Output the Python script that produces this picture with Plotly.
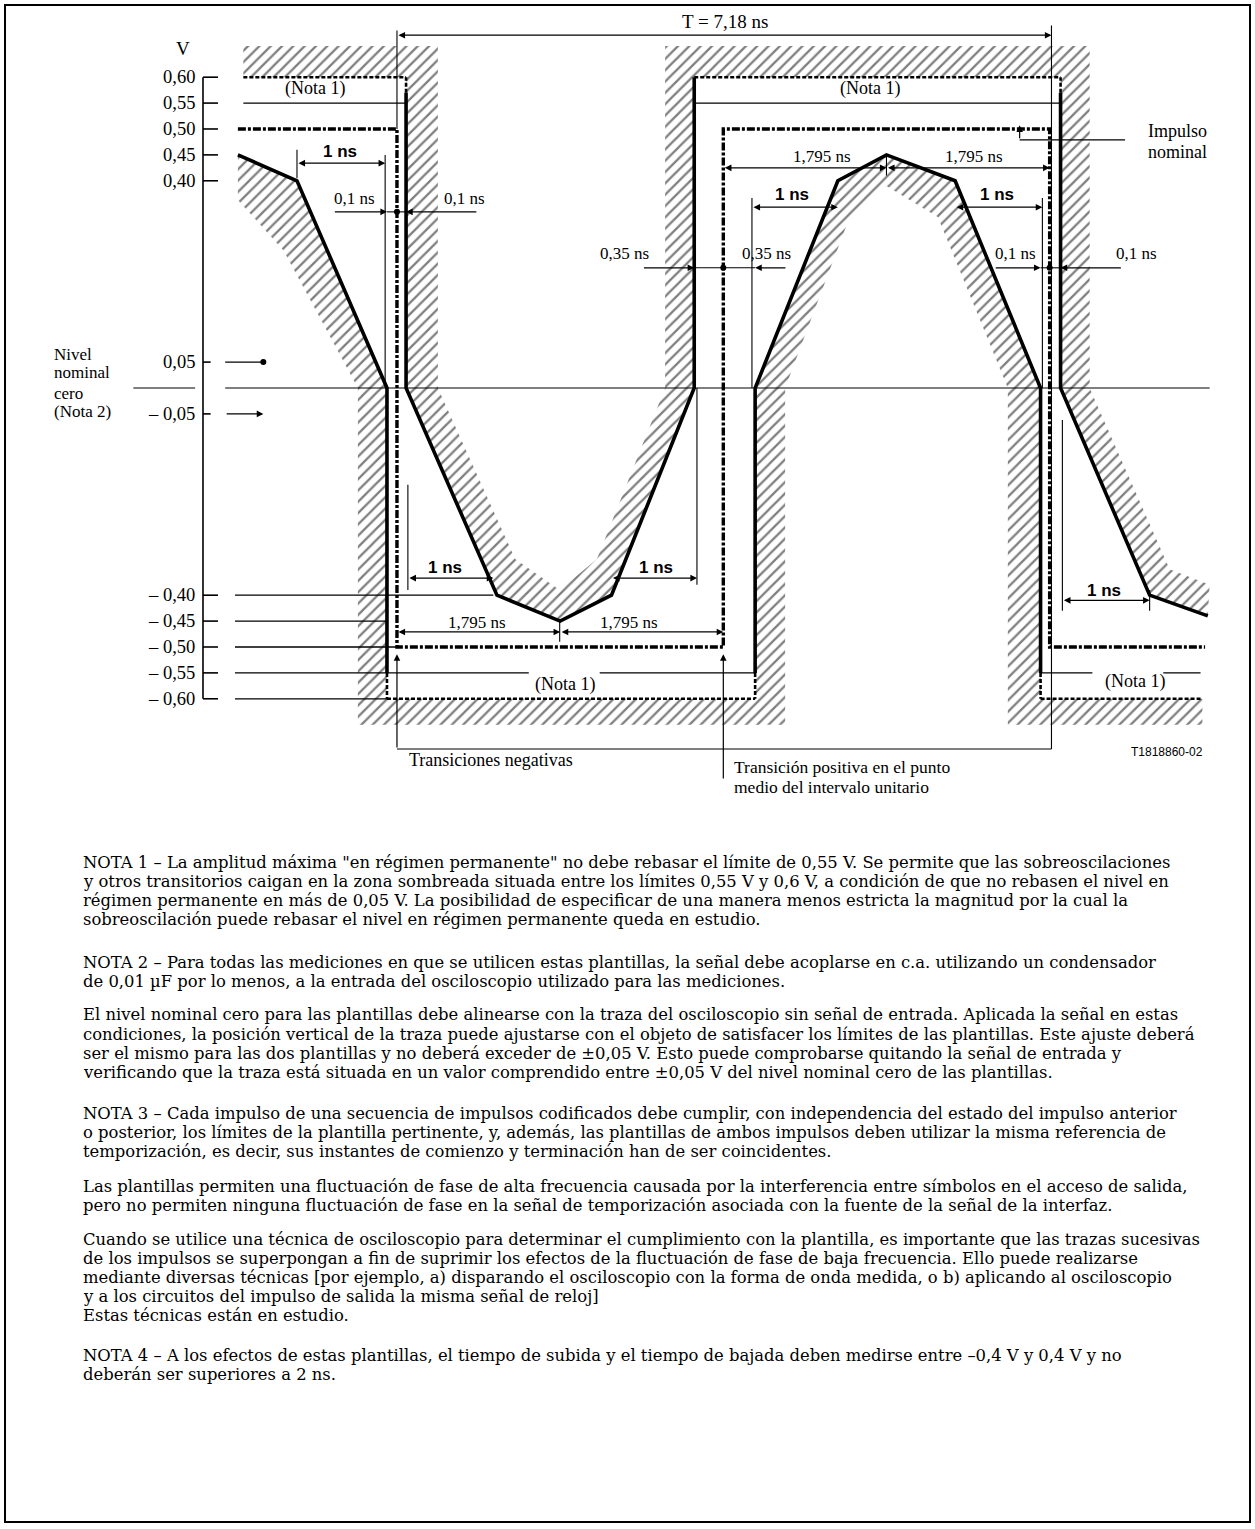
import plotly.graph_objects as go

FIG_W, FIG_H = 1255, 1529
X_RANGE = [-4.367, 9.439]    # time axis, ns
Y_RANGE = [-2.2027, 0.749]   # amplitude axis, V

SERIF = "Liberation Serif, Times New Roman, serif"
NOTE_FONT = "DejaVu Serif, Liberation Serif, serif"
SANS = "Liberation Sans, Arial, sans-serif"

T_PERIOD = 7.18
T_HALF = 3.59

# ---------------- data ----------------
NOMINAL_T = [-1.75, 0, 0, T_HALF, T_HALF, T_PERIOD, T_PERIOD, 8.89]
NOMINAL_V = [0.5, 0.5, -0.5, -0.5, 0.5, 0.5, -0.5, -0.5]

MAX1_T = [0.1, 0.1, 1.1, 1.795, 2.36, 3.27, 3.27]
MAX1_V = [0.57, 0.0, -0.40, -0.45, -0.40, 0.0, 0.60]
MAX2_T = [7.3, 7.3, 8.28, 8.92]
MAX2_V = [0.57, 0.0, -0.40, -0.44]

MIN1_T = [-1.75, -1.1, -0.11, -0.11]
MIN1_V = [0.45, 0.40, 0.0, -0.55]
MIN2_T = [3.94, 3.94, 4.85, 5.385, 6.14, 7.08, 7.08]
MIN2_V = [-0.55, 0.0, 0.40, 0.45, 0.40, 0.0, -0.55]

HATCH_UP_T = [-1.69, 0.45, 0.45, 1.3, 1.79, 2.2, 2.95, 2.95, 7.62, 7.62, 8.5, 8.94,
              8.92, 8.28, 7.3, 7.3, 3.27, 3.27, 2.36, 1.795, 1.1, 0.1, 0.1, -1.69]
HATCH_UP_V = [0.66, 0.66, 0.0, -0.33, -0.39, -0.33, 0.0, 0.66, 0.66, 0.0, -0.35, -0.38,
              -0.44, -0.40, 0.0, 0.6, 0.6, 0.0, -0.40, -0.45, -0.40, 0.0, 0.6, 0.6]

HATCH_LOW_T = [-1.75, -1.1, -0.11, -0.11, 3.94, 3.94, 4.85, 5.385, 6.14, 7.08, 7.08, 8.86,
               8.86, 6.72, 6.72, 5.95, 5.385, 4.98, 4.27, 4.27, -0.43, -0.43, -1.25, -1.75]
HATCH_LOW_V = [0.45, 0.40, 0.0, -0.6, -0.6, 0.0, 0.40, 0.45, 0.40, 0.0, -0.6, -0.6,
               -0.65, -0.65, 0.0, 0.33, 0.39, 0.33, 0.0, -0.65, -0.65, 0.0, 0.266, 0.363]

TICK_VALUES = [0.60, 0.55, 0.50, 0.45, 0.40, 0.05, -0.05, -0.40, -0.45, -0.50, -0.55, -0.60]
TICK_LABELS = ["0,60", "0,55", "0,50", "0,45", "0,40", "0,05", "\u2013 0,05",
               "\u2013 0,40", "\u2013 0,45", "\u2013 0,50", "\u2013 0,55", "\u2013 0,60"]
# right end of the leader lines drawn from the negative tick marks
NEG_LEADER_V = [-0.40, -0.45, -0.50, -0.55, -0.60]
NEG_LEADER_END_T = [1.06, -0.11, 0.0, -0.11, -0.11]

NOTE_PARAGRAPHS = [
    ["NOTA 1 \u2013 La amplitud m\u00e1xima \"en r\u00e9gimen permanente\" no debe rebasar el l\u00edmite de 0,55 V. Se permite que las sobreoscilaciones",
     "y otros transitorios caigan en la zona sombreada situada entre los l\u00edmites 0,55 V y 0,6 V, a condici\u00f3n de que no rebasen el nivel en",
     "r\u00e9gimen permanente en m\u00e1s de 0,05 V. La posibilidad de especificar de una manera menos estricta la magnitud por la cual la",
     "sobreoscilaci\u00f3n puede rebasar el nivel en r\u00e9gimen permanente queda en estudio."],
    ["NOTA 2 \u2013 Para todas las mediciones en que se utilicen estas plantillas, la se\u00f1al debe acoplarse en c.a. utilizando un condensador",
     "de 0,01 \u00b5F por lo menos, a la entrada del osciloscopio utilizado para las mediciones."],
    ["El nivel nominal cero para las plantillas debe alinearse con la traza del osciloscopio sin se\u00f1al de entrada. Aplicada la se\u00f1al en estas",
     "condiciones, la posici\u00f3n vertical de la traza puede ajustarse con el objeto de satisfacer los l\u00edmites de las plantillas. Este ajuste deber\u00e1",
     "ser el mismo para las dos plantillas y no deber\u00e1 exceder de \u00b10,05 V. Esto puede comprobarse quitando la se\u00f1al de entrada y",
     "verificando que la traza est\u00e1 situada en un valor comprendido entre \u00b10,05 V del nivel nominal cero de las plantillas."],
    ["NOTA 3 \u2013 Cada impulso de una secuencia de impulsos codificados debe cumplir, con independencia del estado del impulso anterior",
     "o posterior, los l\u00edmites de la plantilla pertinente, y, adem\u00e1s, las plantillas de ambos impulsos deben utilizar la misma referencia de",
     "temporizaci\u00f3n, es decir, sus instantes de comienzo y terminaci\u00f3n han de ser coincidentes."],
    ["Las plantillas permiten una fluctuaci\u00f3n de fase de alta frecuencia causada por la interferencia entre s\u00edmbolos en el acceso de salida,",
     "pero no permiten ninguna fluctuaci\u00f3n de fase en la se\u00f1al de temporizaci\u00f3n asociada con la fuente de la se\u00f1al de la interfaz."],
    ["Cuando se utilice una t\u00e9cnica de osciloscopio para determinar el cumplimiento con la plantilla, es importante que las trazas sucesivas",
     "de los impulsos se superpongan a fin de suprimir los efectos de la fluctuaci\u00f3n de fase de baja frecuencia. Ello puede realizarse",
     "mediante diversas t\u00e9cnicas [por ejemplo, a) disparando el osciloscopio con la forma de onda medida, o b) aplicando al osciloscopio",
     "y a los circuitos del impulso de salida la misma se\u00f1al de reloj]",
     "Estas t\u00e9cnicas est\u00e1n en estudio."],
    ["NOTA 4 \u2013 A los efectos de estas plantillas, el tiempo de subida y el tiempo de bajada deben medirse entre \u20130,4 V y 0,4 V y no",
     "deber\u00e1n ser superiores a 2 ns."],
]
NOTE_START_PX = [862, 962, 1015, 1113, 1186, 1239, 1355]
NOTE_LINE_PX = 19.2
NOTE_LEFT_PX = 82
NOTE_SIZE = 16.4

# ---------------- figure ----------------
fig = go.Figure()


def line(t, v, width=1.0, dash="solid"):
    fig.add_trace(go.Scatter(x=t, y=v, mode="lines", hoverinfo="skip", showlegend=False,
                             line=dict(color="black", width=width, dash=dash)))


def hatch(t, v):
    fig.add_trace(go.Scatter(x=t, y=v, mode="lines", fill="toself", hoverinfo="skip",
                             showlegend=False, line=dict(width=0, color="rgba(0,0,0,0)"),
                             fillcolor="white",
                             fillpattern=dict(shape="/", size=8, solidity=0.28,
                                              fgcolor="black", bgcolor="white")))


annots = []


def txt(t, v, s, size=17, xanchor="center", family=SERIF, bold=False):
    if bold:
        s = "<b>" + s + "</b>"
    annots.append(dict(x=t, y=v, xref="x", yref="y", text=s, showarrow=False,
                       xanchor=xanchor, yanchor="middle", borderpad=0,
                       font=dict(family=family, size=size, color="black")))


def arrow(t0, v0, t1, v1, both=False):
    a = dict(x=t1, y=v1, ax=t0, ay=v0, xref="x", yref="y", axref="x", ayref="y",
             text="", showarrow=True, arrowhead=2, arrowsize=1.1, arrowwidth=1.2,
             arrowcolor="black", standoff=0)
    if both:
        a.update(arrowside="end+start", startarrowhead=2, startarrowsize=1.1, startstandoff=0)
    annots.append(a)


# hatched forbidden zones
hatch(HATCH_UP_T, HATCH_UP_V)
hatch(HATCH_LOW_T, HATCH_LOW_V)

# zero line and short line next to its label
line([-1.89, 8.94], [0, 0], 1.2)
line([-2.90, -2.22], [0, 0], 1.2)

# y axis with ticks
AXIS_T = -2.134
line([AXIS_T, AXIS_T], [-0.6, 0.6], 1.6)
for val, lab in zip(TICK_VALUES, TICK_LABELS):
    end = -2.05 if abs(val) < 0.1 else -1.969
    line([AXIS_T, end], [val, val], 1.6)
    txt(-2.215, val, lab, size=18.5, xanchor="right")
txt(-2.354, 0.656, "V", size=19)

# leader lines from negative ticks
for val, end in zip(NEG_LEADER_V, NEG_LEADER_END_T):
    line([-1.782, end], [val, val], 1.3)

# +/-0.05 arrows
line([-1.89, -1.47], [0.05, 0.05], 1.2)
fig.add_trace(go.Scatter(x=[-1.47], y=[0.05], mode="markers", hoverinfo="skip", showlegend=False,
                         marker=dict(color="black", size=6)))
arrow(-1.89, -0.05, -1.47, -0.05)

# steady-state and overshoot limits
for t0, t1, v in [(-1.69, 0.1, 0.55), (3.27, 7.3, 0.55), (-0.11, 1.45, -0.55),
                  (2.23, 3.94, -0.55), (7.08, 7.65, -0.55), (8.43, 8.84, -0.55)]:
    line([t0, t1], [v, v], 1.4)
for t0, t1, v in [(-1.69, 0.1, 0.6), (3.27, 7.3, 0.6), (-0.11, 3.94, -0.6), (7.08, 8.86, -0.6)]:
    line([t0, t1], [v, v], 2.6, "4px,2px")
for t, v0, v1 in [(0.1, 0.57, 0.6), (7.3, 0.57, 0.6), (-0.11, -0.55, -0.6),
                  (3.94, -0.55, -0.6), (7.08, -0.55, -0.6)]:
    line([t, t], [v0, v1], 2.6, "4px,2px")

# mask limit curves
line(MAX1_T, MAX1_V, 3.6)
line(MAX2_T, MAX2_V, 3.6)
line(MIN1_T, MIN1_V, 3.6)
line(MIN2_T, MIN2_V, 3.6)

# nominal pulse
line(NOMINAL_T, NOMINAL_V, 3.4, "8px,2px,3px,2px")

# period T
line([0, 0], [0.69, 0.5], 1.1)
line([7.2, 7.2], [0.70, -0.697], 1.1)
arrow(0, 0.681, 7.2, 0.681, both=True)
txt(3.61, 0.707, "T = 7,18 ns", size=19)

# extension lines
for t, v0, v1 in [(-1.1, 0.46, 0.405), (-0.13, 0.45, 0.0), (0.12, -0.187, -0.39),
                  (3.30, 0.0, -0.38), (3.905, 0.367, 0.0), (7.1, 0.367, 0.0),
                  (7.32, -0.062, -0.43), (8.28, -0.39, -0.43), (1.79, -0.45, -0.49),
                  (5.385, 0.45, 0.41)]:
    line([t, t], [v0, v1], 1.1)

# dimension arrows
arrow(-1.1, 0.434, -0.13, 0.434, both=True)
arrow(-0.70, 0.34, -0.11, 0.34)
arrow(0.89, 0.34, 0.1, 0.34)
line([-0.11, 0.1], [0.34, 0.34], 1.1)
arrow(T_HALF, 0.425, 5.385, 0.425, both=True)
arrow(5.385, 0.425, T_PERIOD, 0.425, both=True)
arrow(3.905, 0.349, 4.85, 0.349, both=True)
arrow(6.14, 0.349, 7.1, 0.349, both=True)
arrow(2.7, 0.232, 3.27, 0.232)
arrow(4.29, 0.232, 3.94, 0.232)
line([3.27, 3.94], [0.232, 0.232], 1.1)
arrow(6.57, 0.232, 7.08, 0.232)
arrow(7.98, 0.232, 7.3, 0.232)
line([7.08, 7.3], [0.232, 0.232], 1.1)
arrow(0.12, -0.367, 1.06, -0.367, both=True)
arrow(2.36, -0.367, 3.30, -0.367, both=True)
arrow(0.0, -0.471, 1.795, -0.471, both=True)
arrow(1.795, -0.471, T_HALF, -0.471, both=True)
arrow(7.32, -0.41, 8.28, -0.41, both=True)

fig.add_trace(go.Scatter(x=[0, T_HALF, T_PERIOD], y=[0.34, 0.232, 0.232], mode="markers",
                         hoverinfo="skip", showlegend=False, marker=dict(color="black", size=6)))

# nominal pulse pointer
arrow(6.85, 0.479, 6.85, 0.507)
line([6.85, 8.01], [0.479, 0.479], 1.1)
txt(8.59, 0.496, "Impulso", size=18)
txt(8.59, 0.456, "nominal", size=18)

# transition pointers
line([0, 7.2], [-0.697, -0.697], 1.1)
arrow(0, -0.697, 0, -0.514)
arrow(T_HALF, -0.757, T_HALF, -0.514)

# labels
txt(-0.90, 0.579, "(Nota 1)", 18)
txt(5.20, 0.579, "(Nota 1)", 18)
txt(1.85, -0.573, "(Nota 1)", 18)
txt(8.12, -0.566, "(Nota 1)", 18)
txt(-0.627, 0.456, "1 ns", 17, bold=True, family=SANS)
txt(-0.462, 0.365, "0,1 ns", 17)
txt(0.748, 0.365, "0,1 ns", 17)
txt(4.675, 0.446, "1,795 ns", 17)
txt(6.35, 0.446, "1,795 ns", 17)
txt(4.345, 0.373, "1 ns", 17, bold=True, family=SANS)
txt(6.60, 0.373, "1 ns", 17, bold=True, family=SANS)
txt(2.50, 0.259, "0,35 ns", 17)
txt(4.07, 0.259, "0,35 ns", 17)
txt(6.80, 0.259, "0,1 ns", 17)
txt(8.14, 0.259, "0,1 ns", 17)
txt(0.528, -0.346, "1 ns", 17, bold=True, family=SANS)
txt(2.85, -0.346, "1 ns", 17, bold=True, family=SANS)
txt(0.88, -0.452, "1,795 ns", 17)
txt(2.55, -0.452, "1,795 ns", 17)
txt(7.78, -0.39, "1 ns", 17, bold=True, family=SANS)
txt(0.12, -0.718, "Transiciones negativas", 18, xanchor="left")
txt(3.70, -0.732, "Transici\u00f3n positiva en el punto", 17.5, xanchor="left")
txt(3.70, -0.770, "medio del intervalo unitario", 17.5, xanchor="left")
txt(8.47, -0.703, "T1818860-02", 12, family=SANS)
for v, s in zip([0.064, 0.029, -0.0097, -0.046], ["Nivel", "nominal", "cero", "(Nota 2)"]):
    txt(-3.784, v, s, 17, xanchor="left")

# notes below the diagram
for start, para in zip(NOTE_START_PX, NOTE_PARAGRAPHS):
    for i, s in enumerate(para):
        ypx = start + i * NOTE_LINE_PX
        annots.append(dict(x=NOTE_LEFT_PX / FIG_W, y=1 - ypx / FIG_H, xref="paper", yref="paper",
                           text=s, showarrow=False, xanchor="left", yanchor="middle", borderpad=0,
                           font=dict(family=NOTE_FONT, size=NOTE_SIZE, color="black")))

fig.update_layout(
    width=FIG_W, height=FIG_H, margin=dict(l=0, r=0, t=0, b=0),
    paper_bgcolor="white", plot_bgcolor="white", showlegend=False,
    xaxis=dict(range=X_RANGE, visible=False, fixedrange=True),
    yaxis=dict(range=Y_RANGE, visible=False, fixedrange=True),
    annotations=annots,
    shapes=[dict(type="rect", xref="paper", yref="paper", x0=5 / FIG_W, x1=1250 / FIG_W,
                 y0=1 - 1522 / FIG_H, y1=1 - 5 / FIG_H, line=dict(color="black", width=2))],
)

fig.write_html("out.html", config={"displayModeBar": False},
               post_script="document.body.style.margin='0';document.body.style.overflow='hidden';")
